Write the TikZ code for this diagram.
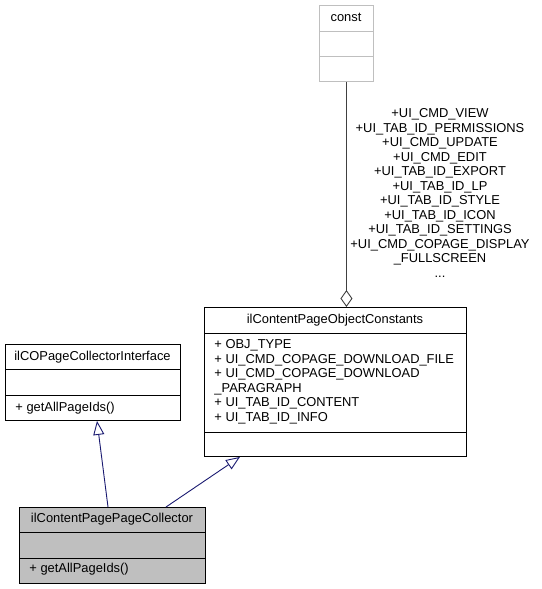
\documentclass[tikz,border=0pt]{standalone}
\usepackage{fontspec}
\setmainfont{Liberation Sans}
\usetikzlibrary{arrows.meta}

\definecolor{edgeblue}{HTML}{191970}
\definecolor{boxgray}{HTML}{BFBFBF}
\definecolor{linegray}{HTML}{404040}
\newcommand{\umlfont}{\fontsize{12.9}{14.6}\selectfont}
\newcommand{\lblfont}{\fontsize{12.9}{14.5}\selectfont}

\tikzset{
  classbox/.style={draw=black, inner sep=0pt, anchor=north west},
  membtext/.style={inner sep=0pt, anchor=base west, font=\umlfont},
  titletext/.style={inner sep=0pt, anchor=base, font=\umlfont},
  inherit/.style={draw=edgeblue, -{Triangle[open,length=14pt,width=11pt]}},
  aggr/.style={draw=linegray, -{Diamond[open,length=17pt,width=12pt]}}
}

\begin{document}
\begin{tikzpicture}[x=1pt,y=-1pt,line width=0.9pt]
\useasboundingbox (0,0) rectangle (541,589);

% const
\node[classbox, draw=boxgray, minimum width=54pt, minimum height=76pt] (const) at (319,5) {};
\draw[boxgray] ([yshift=-26pt]const.north west) -- ([yshift=-26pt]const.north east);
\draw[boxgray] ([yshift=-51pt]const.north west) -- ([yshift=-51pt]const.north east);
\node[titletext] (constname) at (346,21.5) {const};

% ilContentPageObjectConstants
\node[classbox, minimum width=262pt, minimum height=149pt] (objc) at (204,307) {};
\draw ([yshift=-26pt]objc.north west) -- ([yshift=-26pt]objc.north east);
\draw ([yshift=-125pt]objc.north west) -- ([yshift=-125pt]objc.north east);
\node[titletext] (objcname) at (335,323) {ilContentPageObjectConstants};
\node[membtext] (objc1) at (214,348.5) {+ OBJ\_TYPE};
\node[membtext] (objc2) at (214,363.1) {+ UI\_CMD\_COPAGE\_DOWNLOAD\_FILE};
\node[membtext] (objc3) at (214,377.7) {+ UI\_CMD\_COPAGE\_DOWNLOAD};
\node[membtext] (objc4) at (214,392.3) {\_PARAGRAPH};
\node[membtext] (objc5) at (214,406.9) {+ UI\_TAB\_ID\_CONTENT};
\node[membtext] (objc6) at (214,421.5) {+ UI\_TAB\_ID\_INFO};

% ilCOPageCollectorInterface
\node[classbox, minimum width=175pt, minimum height=76pt] (iface) at (5,344) {};
\draw ([yshift=-25pt]iface.north west) -- ([yshift=-25pt]iface.north east);
\draw ([yshift=-51pt]iface.north west) -- ([yshift=-51pt]iface.north east);
\node[titletext] (ifacename) at (92.5,360) {ilCOPageCollectorInterface};
\node[membtext] (ifacem) at (15,411) {+ getAllPageIds()};

% ilContentPagePageCollector
\node[classbox, fill=boxgray, minimum width=186pt, minimum height=76pt] (coll) at (19,507) {};
\draw ([yshift=-25pt]coll.north west) -- ([yshift=-25pt]coll.north east);
\draw ([yshift=-51pt]coll.north west) -- ([yshift=-51pt]coll.north east);
\node[titletext] (collname) at (112,522.7) {ilContentPagePageCollector};
\node[membtext] (collm) at (29,572.7) {+ getAllPageIds()};

% edges
\draw[inherit] ([xshift=89pt]coll.north west) -- ([xshift=92pt]iface.south west);
\draw[inherit] ([xshift=147pt]coll.north west) -- ([xshift=36pt]objc.south west);
\draw[aggr] (const.south) -- (const.south |- objc.north);
\node[inner sep=0pt, anchor=north, align=center, font=\lblfont] (constlbl) at (440,108.4)
  {+UI\_CMD\_VIEW\\+UI\_TAB\_ID\_PERMISSIONS\\+UI\_CMD\_UPDATE\\+UI\_CMD\_EDIT\\
   +UI\_TAB\_ID\_EXPORT\\+UI\_TAB\_ID\_LP\\+UI\_TAB\_ID\_STYLE\\+UI\_TAB\_ID\_ICON\\
   +UI\_TAB\_ID\_SETTINGS\\+UI\_CMD\_COPAGE\_DISPLAY\\\_FULLSCREEN\\...};
\end{tikzpicture}
\end{document}
